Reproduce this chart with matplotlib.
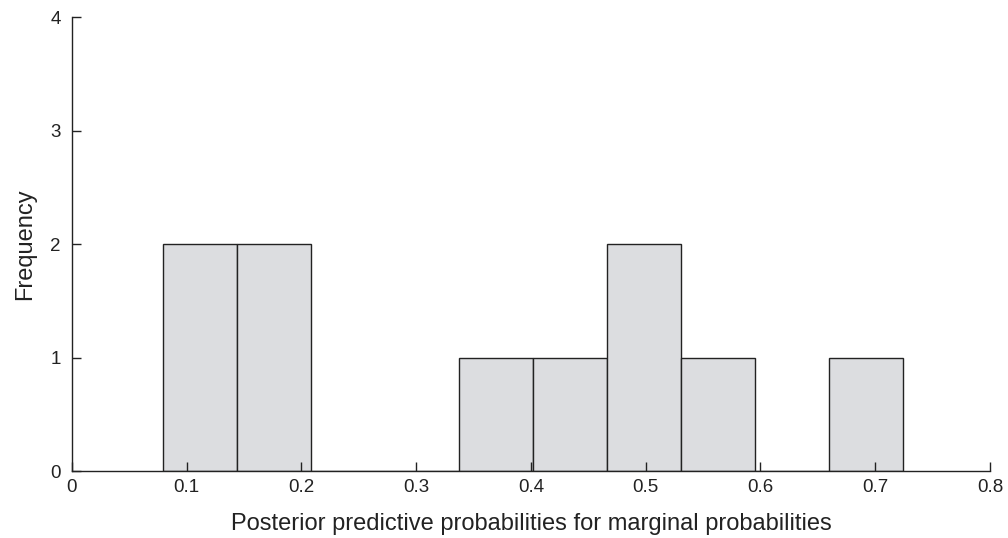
import matplotlib
matplotlib.use("Agg")
import matplotlib.pyplot as plt

# histogram bins and counts
bin_edges = [0.079, 0.1435, 0.208, 0.2725, 0.337, 0.4015, 0.466, 0.5305, 0.595, 0.6595, 0.724]
counts = [2, 2, 0, 0, 1, 1, 2, 1, 0, 1]
x_ticks = [0, 0.1, 0.2, 0.3, 0.4, 0.5, 0.6, 0.7, 0.8]
x_labels = ["0", "0.1", "0.2", "0.3", "0.4", "0.5", "0.6", "0.7", "0.8"]
y_ticks = [0, 1, 2, 3, 4]

plt.rcParams["font.family"] = ["Liberation Sans", "DejaVu Sans"]

fig = plt.figure(figsize=(10.08, 5.38), dpi=100)
ax = fig.add_axes([0.0714, 0.1245, 0.9107, 0.8435])

ax.hist(bin_edges[:-1], bins=bin_edges, weights=counts,
        color="#dcdde0", edgecolor="#222222", linewidth=1.0)

ax.set_xlim(0, 0.8)
ax.set_ylim(0, 4)
ax.set_xticks(x_ticks)
ax.set_xticklabels(x_labels)
ax.set_yticks(y_ticks)

ax.spines["top"].set_visible(False)
ax.spines["right"].set_visible(False)
for s in ("left", "bottom"):
    ax.spines[s].set_linewidth(1.0)
    ax.spines[s].set_color("#222222")

ax.tick_params(direction="in", length=6.5, width=1.0, colors="#222222", labelsize=13.5)
ax.tick_params(axis="x", pad=6)
ax.tick_params(axis="y", pad=8)

ax.set_xlabel("Posterior predictive probabilities for marginal probabilities",
              fontsize=17, color="#222222", labelpad=12)
ax.set_ylabel("Frequency", fontsize=17, color="#222222", labelpad=10)

fig.savefig("out.png", dpi=100)
